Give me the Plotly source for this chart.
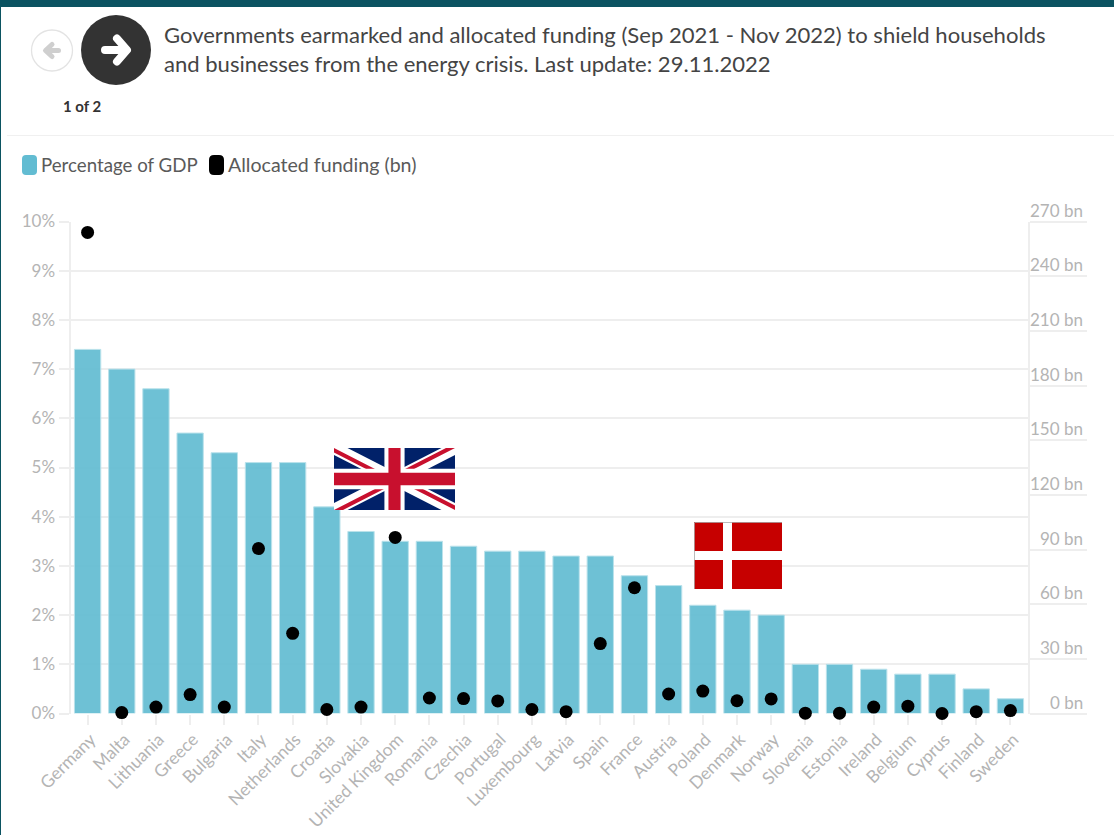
import base64
import plotly.graph_objects as go

WIDTH, HEIGHT = 1114, 835

countries = ["Germany", "Malta", "Lithuania", "Greece", "Bulgaria", "Italy", "Netherlands",
             "Croatia", "Slovakia", "United Kingdom", "Romania", "Czechia", "Portugal",
             "Luxembourg", "Latvia", "Spain", "France", "Austria", "Poland", "Denmark",
             "Norway", "Slovenia", "Estonia", "Ireland", "Belgium", "Cyprus", "Finland", "Sweden"]
gdp_share = [7.4, 7.0, 6.6, 5.7, 5.3, 5.1, 5.1, 4.2, 3.7, 3.5, 3.5, 3.4, 3.3, 3.3,
             3.2, 3.2, 2.8, 2.6, 2.2, 2.1, 2.0, 1.0, 1.0, 0.9, 0.8, 0.8, 0.5, 0.3]
allocated_bn = [264, 0.5, 3.5, 10.4, 3.5, 90.5, 44, 2.2, 3.5, 96.6, 8.5, 8.2, 6.9, 2.2,
                1, 38.4, 69, 10.7, 12.3, 7, 8, 0.2, 0.2, 3.5, 4, 0, 1, 1.6]
pct_ticks = list(range(0, 11))
bn_ticks = list(range(0, 271, 30))

FONT = "Lato"
GRID = "#eeeeee"
TICK_TEXT = "#b4b4b4"


def px(x):
    return x / WIDTH


def py(y):
    return 1 - y / HEIGHT


def svg_image(svg, left, top, width, height):
    data = base64.b64encode(svg.encode()).decode()
    return dict(source="data:image/svg+xml;base64," + data, xref="paper", yref="paper",
                x=px(left), y=py(top), sizex=width / WIDTH, sizey=height / HEIGHT,
                xanchor="left", yanchor="top", sizing="stretch", layer="above")


def rounded_path(x0, y0, x1, y1, r):
    X = px
    Y = py
    return (f"M{X(x0 + r)},{Y(y0)} L{X(x1 - r)},{Y(y0)} Q{X(x1)},{Y(y0)} {X(x1)},{Y(y0 + r)} "
            f"L{X(x1)},{Y(y1 - r)} Q{X(x1)},{Y(y1)} {X(x1 - r)},{Y(y1)} L{X(x0 + r)},{Y(y1)} "
            f"Q{X(x0)},{Y(y1)} {X(x0)},{Y(y1 - r)} L{X(x0)},{Y(y0 + r)} Q{X(x0)},{Y(y0)} {X(x0 + r)},{Y(y0)} Z")


UNION_JACK = """<svg xmlns="http://www.w3.org/2000/svg" viewBox="0 0 60 30" preserveAspectRatio="none">
<clipPath id="s"><path d="M0,0 v30 h60 v-30 z"/></clipPath>
<clipPath id="t"><path d="M30,15 h30 v15 z v15 h-30 z h-30 v-15 z v-15 h30 z"/></clipPath>
<g clip-path="url(#s)"><path d="M0,0 v30 h60 v-30 z" fill="#012169"/>
<path d="M0,0 L60,30 M60,0 L0,30" stroke="#fff" stroke-width="6"/>
<path d="M0,0 L60,30 M60,0 L0,30" clip-path="url(#t)" stroke="#C8102E" stroke-width="4"/>
<path d="M30,0 v30 M0,15 h60" stroke="#fff" stroke-width="10"/>
<path d="M30,0 v30 M0,15 h60" stroke="#C8102E" stroke-width="6"/></g></svg>"""

DANNEBROG = """<svg xmlns="http://www.w3.org/2000/svg" viewBox="0 0 88 67" preserveAspectRatio="none">
<rect width="88" height="67" fill="#c60000"/>
<rect x="29" width="9" height="67" fill="#fff"/><rect y="29" width="88" height="9" fill="#fff"/>
<path d="M0.5,67 V0.5 H88" fill="none" stroke="#aaa" stroke-width="0.8"/></svg>"""

BACK_BUTTON = """<svg xmlns="http://www.w3.org/2000/svg" viewBox="0 0 44 44">
<circle cx="22" cy="22.5" r="20.5" fill="#fff" stroke="#e3e3e3" stroke-width="1.3"/>
<path d="M28.5,22.5 H18 M22,16.5 L15.5,22.5 L22,28.5" fill="none" stroke="#cfcfcf" stroke-width="5"
 stroke-linecap="round" stroke-linejoin="round"/></svg>"""

NEXT_BUTTON = """<svg xmlns="http://www.w3.org/2000/svg" viewBox="0 0 70 70">
<circle cx="35" cy="35" r="35" fill="#333333"/>
<path d="M24,35 H44 M36,23.5 L46,35 L36,46.5" fill="none" stroke="#ffffff" stroke-width="8"
 stroke-linecap="round" stroke-linejoin="round"/></svg>"""

fig = go.Figure()

fig.add_trace(go.Bar(
    x=countries, y=gdp_share, name="Percentage of GDP", yaxis="y",
    marker=dict(color="#62BCD2", opacity=0.92, line=dict(color="#b5e0ea", width=1)),
    width=0.77,
))
fig.add_trace(go.Scatter(
    x=countries, y=allocated_bn, name="Allocated funding (bn)", yaxis="y2",
    mode="markers", marker=dict(color="#000000", size=13), cliponaxis=False,
))

annotations = [
    dict(text="Governments earmarked and allocated funding (Sep 2021 - Nov 2022) to shield households"
              "<br>and businesses from the energy crisis. Last update: 29.11.2022",
         xref="paper", yref="paper", x=px(162), y=py(49), xanchor="left", yanchor="middle",
         align="left", showarrow=False, font=dict(family=FONT, size=22.05, color="#444444")),
    dict(text="<b>1 of 2</b>", xref="paper", yref="paper", x=px(83), y=py(106),
         xanchor="center", yanchor="middle", showarrow=False,
         font=dict(family=FONT, size=15, color="#333333")),
    dict(text="Percentage of GDP", xref="paper", yref="paper", x=px(39), y=py(164.5),
         xanchor="left", yanchor="middle", showarrow=False,
         font=dict(family=FONT, size=18.7, color="#5a5a5a")),
    dict(text="Allocated funding (bn)", xref="paper", yref="paper", x=px(226), y=py(164.5),
         xanchor="left", yanchor="middle", showarrow=False,
         font=dict(family=FONT, size=19.6, color="#5a5a5a")),
]
# Right-hand tick labels sit just above their tick lines.
for value in bn_ticks:
    annotations.append(dict(
        text=f"{value} bn", xref="paper", yref="y2", x=px(1085), y=value, yshift=11.5,
        xanchor="right", yanchor="middle", showarrow=False,
        font=dict(family=FONT, size=17, color=TICK_TEXT),
    ))

shapes = [
    dict(type="rect", xref="paper", yref="paper", x0=0, x1=1, y0=py(7), y1=1,
         fillcolor="#0b5361", line_width=0),
    dict(type="rect", xref="paper", yref="paper", x0=0, x1=px(1), y0=0, y1=1,
         fillcolor="#0b5361", line_width=0),
    dict(type="line", xref="paper", yref="paper", x0=px(7), x1=1, y0=py(135.5), y1=py(135.5),
         line=dict(color="#f0f0f0", width=1)),
    dict(type="path", xref="paper", yref="paper", path=rounded_path(22, 155, 37, 175, 4),
         fillcolor="#62BCD2", line_width=0),
    dict(type="path", xref="paper", yref="paper", path=rounded_path(209, 155, 224, 175, 5),
         fillcolor="#000000", line_width=0),
]

images = [
    svg_image(BACK_BUTTON, 30, 28, 44, 44),
    svg_image(NEXT_BUTTON, 81, 15, 70, 70),
    svg_image(UNION_JACK, 334, 448, 121, 62),
    svg_image(DANNEBROG, 694, 522, 88, 67),
]

fig.update_layout(
    width=WIDTH, height=HEIGHT, autosize=False,
    margin=dict(l=0, r=0, t=0, b=0),
    paper_bgcolor="#ffffff", plot_bgcolor="#ffffff",
    showlegend=False, bargap=0.23,
    font=dict(family=FONT),
    annotations=annotations, shapes=shapes, images=images,
    xaxis=dict(
        domain=[px(70.5), px(1027.5)], type="category", tickangle=-45,
        categoryorder="array", categoryarray=countries, range=[-0.5, 27.5],
        ticks="outside", ticklen=10, tickcolor=GRID, tickwidth=2,
        ticklabelshift=3, ticklabelstandoff=-2, layer="below traces",
        tickfont=dict(family=FONT, size=17.4, color=TICK_TEXT),
        showgrid=False, zeroline=False, showline=False, automargin=False,
    ),
    yaxis=dict(
        domain=[py(713.5), py(221.5)], range=[0, 10], tickvals=pct_ticks,
        ticktext=[f"{v}%" for v in pct_ticks],
        ticks="outside", ticklen=10, tickcolor=GRID, tickwidth=2,
        tickfont=dict(family=FONT, size=17, color=TICK_TEXT),
        showgrid=True, gridcolor=GRID, gridwidth=2, zeroline=False,
        showline=True, linecolor=GRID, linewidth=2, automargin=False,
    ),
    yaxis2=dict(
        domain=[py(713.5), py(221.5)], range=[0, 270], overlaying="y", side="right",
        tickvals=bn_ticks, showticklabels=False,
        ticks="outside", ticklen=57, tickcolor=GRID, tickwidth=2,
        showgrid=False, zeroline=False,
        showline=True, linecolor=GRID, linewidth=2, automargin=False,
    ),
)

fig.write_html("out.html")
